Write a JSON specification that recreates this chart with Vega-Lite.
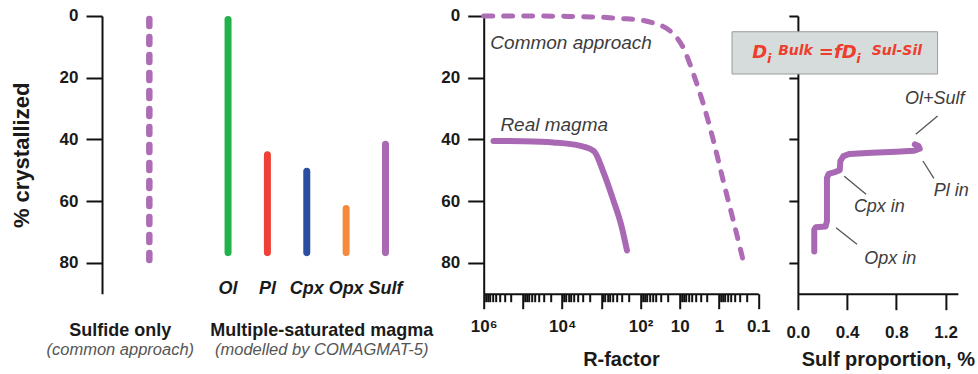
{
  "$schema": "https://vega.github.io/schema/vega-lite/v6.json",
  "background": "white",
  "padding": {"left": 10, "top": 6, "right": 0, "bottom": 0},
  "bounds": "flush",
  "spacing": 66.7,
  "config": {
    "view": {"stroke": null},
    "axis": {
      "domainColor": "#111111", "domainWidth": 2, "tickColor": "#111111", "tickWidth": 2,
      "labelFont": "Liberation Sans", "labelFontWeight": "bold", "labelFontSize": 17, "labelColor": "#1a1a1a",
      "titleFont": "Liberation Sans", "titleFontWeight": "bold", "titleFontSize": 20, "titleColor": "#1a1a1a",
      "grid": false, "labelOverlap": false, "labelFlush": false, "labelBound": false
    },
    "text": {"font": "Liberation Sans"}
  },
  "datasets": {
    "bars": [
      {"mineral": "Sulfide", "start": 1, "end": 81},
      {"mineral": "Ol", "start": 1.1, "end": 76.7},
      {"mineral": "Pl", "start": 45, "end": 76.7},
      {"mineral": "Cpx", "start": 50.3, "end": 76.7},
      {"mineral": "Opx", "start": 62.4, "end": 76.7},
      {"mineral": "Sulf", "start": 41.6, "end": 76.7}
    ],
    "groups": [
      {"label": "Sulfide only", "under": "Sulfide", "line": "main"},
      {"label": "(common approach)", "under": "Sulfide", "line": "sub"},
      {"label": "Multiple-saturated magma", "under": "Cpx", "line": "main"},
      {"label": "(modelled by COMAGMAT-5)", "under": "Cpx", "line": "sub"}
    ],
    "common": [
      {"R": 1000000, "cryst": 0},
      {"R": 100000, "cryst": 0},
      {"R": 10000, "cryst": 0.1},
      {"R": 1000, "cryst": 0.4},
      {"R": 324, "cryst": 0.8},
      {"R": 100, "cryst": 1.3},
      {"R": 46.8, "cryst": 2.3},
      {"R": 17.4, "cryst": 4.9},
      {"R": 8.13, "cryst": 10.3},
      {"R": 4.47, "cryst": 18.8},
      {"R": 2.51, "cryst": 28.5},
      {"R": 1.38, "cryst": 40.5},
      {"R": 0.776, "cryst": 53.5},
      {"R": 0.427, "cryst": 66.5},
      {"R": 0.24, "cryst": 79.4}
    ],
    "real": [
      {"R": 562000, "cryst": 40.5},
      {"R": 100000, "cryst": 40.6},
      {"R": 16600, "cryst": 41},
      {"R": 3390, "cryst": 42.1},
      {"R": 1550, "cryst": 43.8},
      {"R": 891, "cryst": 50.5},
      {"R": 500, "cryst": 59.5},
      {"R": 310, "cryst": 67.8},
      {"R": 222, "cryst": 76}
    ],
    "midnotes": [
      {"label": "Common approach", "R": 676000, "cryst": 8.65},
      {"label": "Real magma", "R": 375000, "cryst": 35.3}
    ],
    "sulfpath": [
      {"sulf": 0.133, "cryst": 76.3},
      {"sulf": 0.133, "cryst": 69.3},
      {"sulf": 0.145, "cryst": 68.5},
      {"sulf": 0.225, "cryst": 68.2},
      {"sulf": 0.236, "cryst": 66.5},
      {"sulf": 0.236, "cryst": 52.5},
      {"sulf": 0.25, "cryst": 51.2},
      {"sulf": 0.3, "cryst": 50.6},
      {"sulf": 0.34, "cryst": 50.0},
      {"sulf": 0.345, "cryst": 47.0},
      {"sulf": 0.37, "cryst": 45.4},
      {"sulf": 0.42, "cryst": 44.7},
      {"sulf": 0.6, "cryst": 44.3},
      {"sulf": 0.8, "cryst": 44.0},
      {"sulf": 0.94, "cryst": 43.7},
      {"sulf": 0.99, "cryst": 43.0},
      {"sulf": 0.98, "cryst": 42.1},
      {"sulf": 0.95, "cryst": 41.6}
    ],
    "box": [{"x1": -0.535, "x2": 1.135, "y1": 5.1, "y2": 18.8}],
    "formula": [
      {"t": "D", "sulf": -0.37, "cryst": 13.7, "role": "main"},
      {"t": "i", "sulf": -0.25, "cryst": 15.2, "role": "sub"},
      {"t": "Bulk", "sulf": -0.16, "cryst": 12.6, "role": "sup"},
      {"t": "=fD", "sulf": 0.17, "cryst": 13.7, "role": "main"},
      {"t": "i", "sulf": 0.475, "cryst": 15.2, "role": "sub"},
      {"t": "Sul-Sil", "sulf": 0.6, "cryst": 12.6, "role": "sup"}
    ],
    "leaders": [
      {"x1": 1.135, "y1": 32.4, "x2": 0.958, "y2": 38.3},
      {"x1": 1.016, "y1": 47.0, "x2": 1.105, "y2": 52.6},
      {"x1": 0.377, "y1": 51.9, "x2": 0.554, "y2": 57.8},
      {"x1": 0.31, "y1": 68.6, "x2": 0.48, "y2": 74.0}
    ],
    "rightnotes": [
      {"label": "Ol+Sulf", "sulf": 1.112, "cryst": 27.0},
      {"label": "Pl in", "sulf": 1.246, "cryst": 56.7},
      {"label": "Cpx in", "sulf": 0.662, "cryst": 61.9},
      {"label": "Opx in", "sulf": 0.75, "cryst": 78.9}
    ]
  },
  "hconcat": [
    {
      "width": 314.9,
      "height": 277.7,
      "layer": [
        {
          "data": {"name": "bars"},
          "transform": [{"filter": "datum.mineral === 'Sulfide'"}],
          "mark": {"type": "rule", "strokeWidth": 6.5, "strokeCap": "round", "strokeDash": [7, 11], "color": "#ad6cb5"},
          "encoding": {
            "x": {"field": "mineral", "type": "nominal", "scale": {"type": "point", "domain": ["Sulfide", "_gap", "Ol", "Pl", "Cpx", "Opx", "Sulf"], "padding": 1, "align": 0.601}, "axis": null},
            "y": {
              "field": "start", "type": "quantitative",
              "scale": {"domain": [0, 90], "reverse": true, "nice": false, "zero": false},
              "axis": {
                "title": "% crystallized",
                "values": [0, 10, 20, 30, 40, 50, 60, 70, 80, 90],
                "labelExpr": "datum.value % 20 === 0 && datum.value < 90 ? datum.label : ''",
                "tickSize": {"condition": {"test": "datum.value % 20 === 0 || datum.value === 90", "value": 16}, "value": 8},
                "labelPadding": 8,
                "titlePadding": 26,
                "titleFontSize": 22
              }
            },
            "y2": {"field": "end"}
          }
        },
        {
          "data": {"name": "bars"},
          "transform": [{"filter": "datum.mineral !== 'Sulfide'"}],
          "mark": {"type": "rule", "strokeWidth": 7, "strokeCap": "round"},
          "encoding": {
            "x": {"field": "mineral", "type": "nominal", "axis": null},
            "y": {"field": "start", "type": "quantitative"},
            "y2": {"field": "end"},
            "color": {"field": "mineral", "type": "nominal", "legend": null,
              "scale": {"domain": ["Ol", "Pl", "Cpx", "Opx", "Sulf"], "range": ["#22b24c", "#ee4035", "#2b4ea0", "#f58a3d", "#a968b3"]}}
          }
        },
        {
          "data": {"name": "bars"},
          "transform": [{"filter": "datum.mineral !== 'Sulfide'"}],
          "mark": {"type": "text", "fontSize": 18, "fontWeight": "bold", "fontStyle": "italic", "color": "#1a1a1a", "baseline": "middle"},
          "encoding": {
            "x": {"field": "mineral", "type": "nominal", "axis": null},
            "y": {"datum": 88.6, "type": "quantitative"},
            "text": {"field": "mineral"}
          }
        },
        {
          "data": {"name": "groups"},
          "transform": [{"filter": "datum.under === 'Sulfide' && datum.line === 'main'"}],
          "mark": {"type": "text", "fontSize": 18, "fontWeight": "bold", "color": "#1a1a1a", "baseline": "middle", "dx": -29},
          "encoding": {
            "x": {"field": "under", "type": "nominal", "axis": null},
            "y": {"datum": 102.2, "type": "quantitative"},
            "text": {"field": "label"}
          }
        },
        {
          "data": {"name": "groups"},
          "transform": [{"filter": "datum.under === 'Sulfide' && datum.line === 'sub'"}],
          "mark": {"type": "text", "fontSize": 16.5, "fontStyle": "italic", "color": "#555555", "baseline": "middle", "dx": -29},
          "encoding": {
            "x": {"field": "under", "type": "nominal", "axis": null},
            "y": {"datum": 108.4, "type": "quantitative"},
            "text": {"field": "label"}
          }
        },
        {
          "data": {"name": "groups"},
          "transform": [{"filter": "datum.under === 'Cpx' && datum.line === 'main'"}],
          "mark": {"type": "text", "fontSize": 18, "fontWeight": "bold", "color": "#1a1a1a", "baseline": "middle", "dx": 15},
          "encoding": {
            "x": {"field": "under", "type": "nominal", "axis": null},
            "y": {"datum": 102.2, "type": "quantitative"},
            "text": {"field": "label"}
          }
        },
        {
          "data": {"name": "groups"},
          "transform": [{"filter": "datum.under === 'Cpx' && datum.line === 'sub'"}],
          "mark": {"type": "text", "fontSize": 16.5, "fontStyle": "italic", "color": "#555555", "baseline": "middle", "dx": 15},
          "encoding": {
            "x": {"field": "under", "type": "nominal", "axis": null},
            "y": {"datum": 108.4, "type": "quantitative"},
            "text": {"field": "label"}
          }
        }
      ]
    },
    {
      "bounds": "flush",
      "spacing": 39.2,
      "hconcat": [
        {
          "width": 274.5,
          "height": 277.7,
          "layer": [
            {
              "data": {"name": "common"},
              "mark": {"type": "line", "strokeWidth": 5, "strokeCap": "round", "strokeDash": [9, 11], "color": "#ad6cb5", "interpolate": "monotone"},
              "encoding": {
                "x": {
                  "field": "R", "type": "quantitative",
                  "scale": {"type": "log", "domain": [0.1, 1000000], "reverse": true, "nice": false},
                  "axis": {
                    "title": "R-factor",
                    "values": [1000000, 100000, 10000, 1000, 100, 10, 1, 0.1,
                      0.2, 0.3, 0.4, 0.5, 0.6, 0.7, 0.8, 0.9,
                      2, 3, 4, 5, 6, 7, 8, 9,
                      20, 30, 40, 50, 60, 70, 80, 90,
                      200, 300, 400, 500, 600, 700, 800, 900,
                      2000, 3000, 4000, 5000, 6000, 7000, 8000, 9000,
                      20000, 30000, 40000, 50000, 60000, 70000, 80000, 90000,
                      200000, 300000, 400000, 500000, 600000, 700000, 800000, 900000],
                    "labelExpr": "datum.value > 999999 ? '10⁶' : abs(datum.value - 10000) < 1 ? '10⁴' : abs(datum.value - 100) < 0.01 ? '10²' : abs(datum.value - 10) < 0.001 ? '10' : abs(datum.value - 1) < 0.0001 ? '1' : abs(datum.value - 0.1) < 0.00001 ? '0.1' : ''",
                    "tickSize": {"condition": {"test": "abs(log(datum.value) / LN10 - round(log(datum.value) / LN10)) < 0.001", "value": 15}, "value": 8},
                    "labelPadding": 10,
                    "titlePadding": 15
                  }
                },
                "y": {
                  "field": "cryst", "type": "quantitative",
                  "scale": {"domain": [0, 90], "reverse": true, "nice": false, "zero": false},
                  "axis": {
                    "title": null,
                    "values": [0, 10, 20, 30, 40, 50, 60, 70, 80, 90],
                    "labelExpr": "datum.value % 20 === 0 && datum.value < 90 ? datum.label : ''",
                    "tickSize": {"condition": {"test": "datum.value % 20 === 0 || datum.value === 90", "value": 16}, "value": 8},
                    "labelPadding": 8
                  }
                },
                "order": {"field": "R", "sort": "descending"}
              }
            },
            {
              "data": {"name": "real"},
              "mark": {"type": "line", "strokeWidth": 6, "strokeCap": "round", "strokeJoin": "round", "color": "#a968b3", "interpolate": "monotone"},
              "encoding": {
                "x": {"field": "R", "type": "quantitative"},
                "y": {"field": "cryst", "type": "quantitative"},
                "order": {"field": "R", "sort": "descending"}
              }
            },
            {
              "data": {"name": "midnotes"},
              "mark": {"type": "text", "fontSize": 19, "fontStyle": "italic", "color": "#3d3d3d", "align": "left", "baseline": "middle"},
              "encoding": {
                "x": {"field": "R", "type": "quantitative"},
                "y": {"field": "cryst", "type": "quantitative"},
                "text": {"field": "label"}
              }
            }
          ]
        },
        {
          "width": 160,
          "height": 277.7,
          "layer": [
            {
              "data": {"name": "sulfpath"},
              "mark": {"type": "line", "strokeWidth": 6, "strokeCap": "round", "strokeJoin": "round", "color": "#a968b3"},
              "encoding": {
                "x": {
                  "field": "sulf", "type": "quantitative",
                  "scale": {"domain": [0, 1.3], "nice": false, "zero": false},
                  "axis": {
                    "title": "Sulf proportion, %",
                    "values": [0, 0.2, 0.4, 0.6, 0.8, 1.0, 1.2],
                    "labelExpr": "round(datum.value * 5) % 2 === 0 ? datum.label : ''",
                    "tickSize": {"condition": {"test": "round(datum.value * 5) % 2 === 0", "value": 16}, "value": 9},
                    "labelPadding": 15,
                    "titlePadding": 9,
                    "titleX": 90
                  }
                },
                "y": {
                  "field": "cryst", "type": "quantitative",
                  "scale": {"domain": [0, 90], "reverse": true, "nice": false, "zero": false},
                  "axis": {"title": null, "labels": false, "values": [0, 10, 20, 30, 40, 50, 60, 70, 80], "tickSize": 9}
                },
                "order": {"field": "cryst", "sort": "descending"}
              }
            },
            {
              "data": {"name": "box"},
              "mark": {"type": "rect", "fill": "#d6dcdc", "stroke": "#9c9c9c", "strokeWidth": 1},
              "encoding": {
                "x": {"field": "x1", "type": "quantitative"},
                "x2": {"field": "x2"},
                "y": {"field": "y1", "type": "quantitative"},
                "y2": {"field": "y2"}
              }
            },
            {
              "data": {"name": "formula"},
              "transform": [{"filter": "datum.role === 'main'"}],
              "mark": {"type": "text", "font": "DejaVu Sans", "fontSize": 18, "fontWeight": "bold", "fontStyle": "italic", "color": "#ee3d2c", "align": "left", "baseline": "alphabetic"},
              "encoding": {
                "x": {"field": "sulf", "type": "quantitative"},
                "y": {"field": "cryst", "type": "quantitative"},
                "text": {"field": "t"}
              }
            },
            {
              "data": {"name": "formula"},
              "transform": [{"filter": "datum.role === 'sub'"}],
              "mark": {"type": "text", "font": "DejaVu Sans", "fontSize": 13, "fontWeight": "bold", "fontStyle": "italic", "color": "#ee3d2c", "align": "left", "baseline": "alphabetic"},
              "encoding": {
                "x": {"field": "sulf", "type": "quantitative"},
                "y": {"field": "cryst", "type": "quantitative"},
                "text": {"field": "t"}
              }
            },
            {
              "data": {"name": "formula"},
              "transform": [{"filter": "datum.role === 'sup'"}],
              "mark": {"type": "text", "font": "DejaVu Sans", "fontSize": 14, "fontWeight": "bold", "fontStyle": "italic", "color": "#ee3d2c", "align": "left", "baseline": "alphabetic"},
              "encoding": {
                "x": {"field": "sulf", "type": "quantitative"},
                "y": {"field": "cryst", "type": "quantitative"},
                "text": {"field": "t"}
              }
            },
            {
              "data": {"name": "leaders"},
              "mark": {"type": "rule", "color": "#555555", "strokeWidth": 1.3},
              "encoding": {
                "x": {"field": "x1", "type": "quantitative"},
                "y": {"field": "y1", "type": "quantitative"},
                "x2": {"field": "x2"},
                "y2": {"field": "y2"}
              }
            },
            {
              "data": {"name": "rightnotes"},
              "mark": {"type": "text", "fontSize": 18, "fontStyle": "italic", "color": "#3d3d3d", "baseline": "middle"},
              "encoding": {
                "x": {"field": "sulf", "type": "quantitative"},
                "y": {"field": "cryst", "type": "quantitative"},
                "text": {"field": "label"}
              }
            }
          ]
        }
      ]
    }
  ]
}
